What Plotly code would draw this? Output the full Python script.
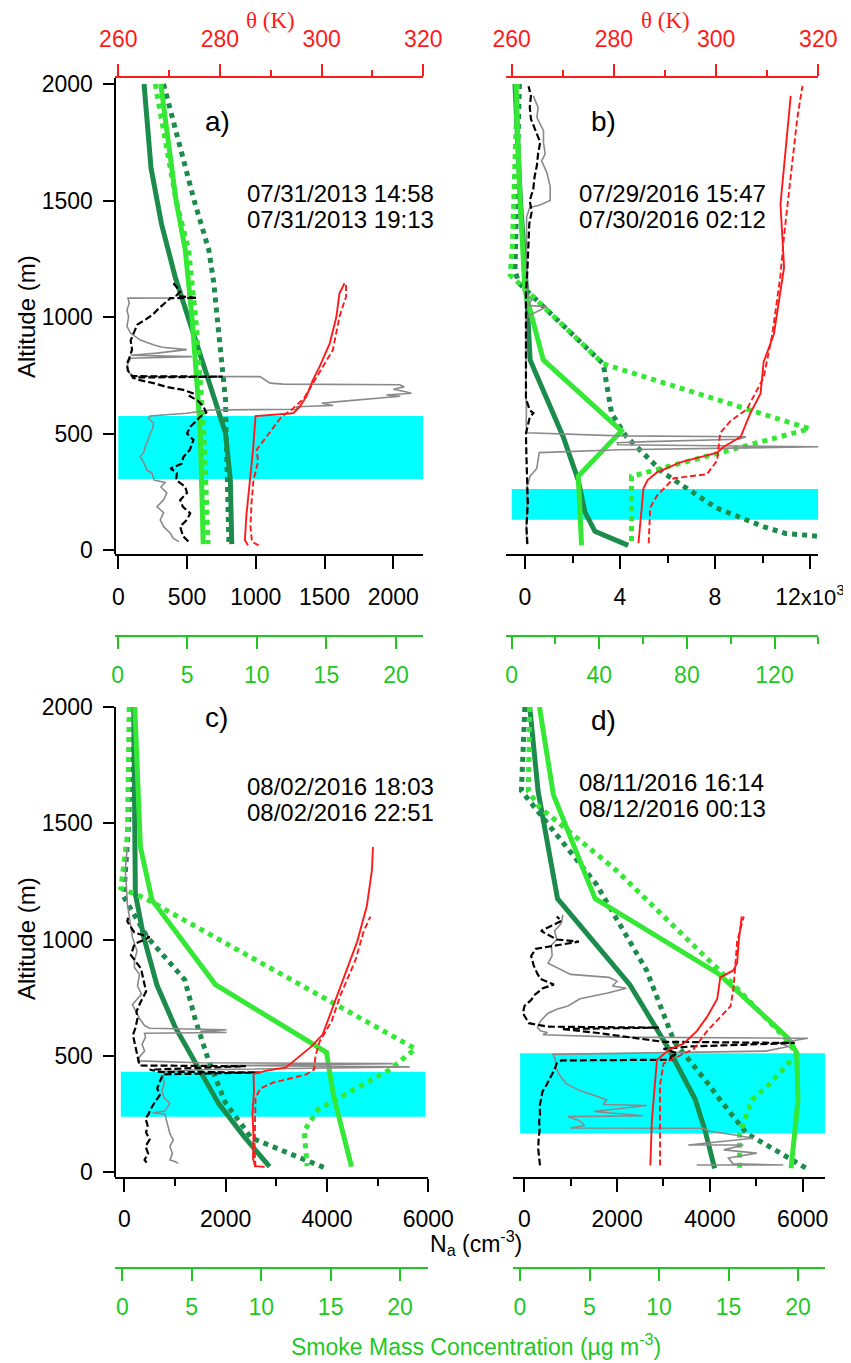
import plotly.graph_objects as go

# window is 851 x 1363; the page body adds an 8 px margin, so the figure is drawn 8 px in
W_WIN, H_WIN = 851, 1363
OFF = 8
W, H = W_WIN - OFF, H_WIN - OFF

# ======================= DATA =======================
# ---- panel a (07/31/2013) ----
A_band_alt = [305, 575]
A_lg_solid_alt = [2000, 1500, 1288, 1000, 716, 500, 25]
A_lg_solid_val = [3.1, 4.2, 4.86, 5.34, 5.7, 5.94, 6.15]
A_lg_dot_alt = [2000, 1500, 1288, 1000, 716, 500, 25]
A_lg_dot_val = [2.7, 4.2, 5.1, 5.6, 5.95, 6.2, 6.5]
A_dg_solid_alt = [2000, 1800, 1640, 1400, 1288, 1173, 1000, 716, 502, 300, 150, 25]
A_dg_solid_val = [1.9, 2.15, 2.4, 3.15, 3.6, 4.13, 5.06, 6.6, 7.75, 8.1, 8.2, 8.2]
A_dg_dot_alt = [2000, 1700, 1500, 1288, 1150, 1000, 800, 644, 500, 25]
A_dg_dot_val = [3.3, 4.6, 5.5, 6.55, 6.9, 7.15, 7.5, 7.75, 7.8, 8.0]
A_th_solid_alt = [20, 43, 150, 300, 429, 575, 587, 615, 659, 730, 787, 887, 1001, 1101, 1145]
A_th_solid_val = [285.5, 284.9, 285.2, 285.9, 286.5, 287.0, 294.4, 295.7, 297.0, 298.3, 299.6, 301.6, 302.9, 303.5, 304.5]
A_th_dash_alt = [20, 35, 100, 200, 300, 380, 429, 486, 540, 572, 600, 650, 716, 787, 858, 1001, 1087, 1145]
A_th_dash_val = [287.6, 286.3, 286.0, 286.2, 286.6, 287.5, 287.2, 289.2, 291.0, 292.1, 294.0, 296.5, 298.3, 300.3, 302.2, 303.5, 304.8, 304.8]
A_gray_alt = [36, 50, 73, 100, 129, 160, 186, 215, 245, 270, 290, 300, 330, 343, 370, 400, 420, 443, 470, 500,
              520, 544, 565, 575, 587, 601, 604, 615, 620, 630, 637, 645, 650, 660, 665, 673, 680, 690, 700, 709,
              712, 716, 744, 746, 760, 787, 800, 823, 830, 836, 845, 860, 870, 880, 901, 930, 960, 1000, 1030, 1060,
              1081, 1082, 1086]
A_gray_na = [440, 400, 377, 330, 305, 330, 281, 330, 353, 310, 340, 260, 245, 208, 190, 160, 185, 196, 215, 232,
             250, 257, 220, 230, 499, 668, 1297, 1297, 1562, 1480, 1600, 1750, 1900, 2050, 1950, 2132, 2080, 2000, 2080, 2047,
             1200, 1104, 1031, 110, 80, 63, 70, 90, 535, 90, 281, 499, 320, 260, 160, 90, 63, 75, 63, 80,
             70, 377, 370]
A_black_alt = [36, 60, 101, 130, 158, 185, 215, 245, 272, 300, 330, 350, 370, 400, 430, 472, 500, 529, 550, 572,
               590, 615, 640, 660, 672, 687, 700, 716, 730, 740, 744, 746, 770, 800, 823, 860, 900, 940, 967, 990,
               1010, 1040, 1060, 1081, 1082, 1090, 1110, 1130, 1145]
A_black_na = [510, 470, 450, 500, 523, 470, 450, 500, 486, 420, 426, 380, 460, 474, 520, 547, 500, 523, 560, 595,
              640, 620, 580, 520, 547, 474, 350, 257, 150, 100, 760, 100, 70, 63, 80, 100, 90, 120, 138, 200,
              250, 300, 341, 380, 570, 420, 450, 420, 401]

# ---- panel b (07/29/2016) ----
B_band_alt = [130, 262]
B_lg_solid_alt = [2000, 1500, 1112, 816, 511, 317, 20]
B_lg_solid_val = [2.0, 3.8, 6.1, 14.4, 50.1, 30.4, 31.9]
B_lg_dot_alt = [2000, 1600, 1300, 1180, 1146, 799, 520, 316, 29]
B_lg_dot_val = [2.6, 1.5, 0.3, -0.7, 3.2, 41.8, 136.0, 54.7, 54.7]
B_dg_solid_alt = [2000, 1500, 1112, 816, 486, 300, 164, 80, 20]
B_dg_solid_val = [1.5, 4.0, 6.8, 8.4, 23.5, 30.4, 33.4, 38.0, 53.2]
B_dg_dot_alt = [2000, 1500, 1200, 1146, 799, 587, 486, 333, 181, 100, 71, 59]
B_dg_dot_val = [3.5, 2.5, 1.5, 3.2, 41.8, 45.6, 52.4, 69.0, 93.4, 115.0, 125.0, 139.8]
B_th_solid_alt = [29, 150, 266, 300, 333, 376, 418, 443, 486, 587, 672, 807, 926, 1213, 1484, 1856, 1949]
B_th_solid_val = [284.8, 285.3, 285.8, 286.6, 288.4, 293.0, 300.2, 301.5, 304.8, 306.7, 308.7, 309.3, 311.3, 313.3, 312.6, 314.2, 314.6]
B_th_dash_alt = [29, 181, 232, 308, 325, 384, 503, 553, 604, 740, 926, 1180, 1349, 1603, 1856, 1992]
B_th_dash_val = [286.8, 287.1, 288.4, 291.7, 298.2, 300.2, 300.8, 302.8, 306.0, 309.3, 311.0, 312.6, 313.3, 314.6, 315.9, 316.9]
B_gray_alt = [29, 100, 200, 266, 290, 317, 333, 350, 418, 430, 443, 452, 460, 465, 475, 486, 490, 503, 550, 590,
              700, 800, 900, 1000, 1044, 1050, 1075, 1090, 1200, 1300, 1430, 1470, 1480, 1500, 1560, 1620, 1670, 1700, 1750, 1800,
              1856, 1900, 1949]
B_gray_na = [70, 60, 90, 70, 140, 212, 353, 495, 600, 4000, 12400, 3900, 3887, 5160, 9000, 9300, 4000, 70, 50, 60,
             40, 30, 40, 50, 918, 100, 300, 100, 70, 60, 70, 200, 600, 1060, 1060, 920, 700, 850, 777, 780,
             500, 550, 350]
B_black_alt = [25, 100, 200, 300, 400, 500, 570, 587, 600, 650, 800, 1000, 1100, 1200, 1300, 1400, 1450, 1500, 1550, 1600,
               1650, 1700, 1750, 1800, 1850, 1900, 1950, 1990]
B_black_na = [100, 60, 120, 80, 60, 40, 200, 353, 200, 40, 30, 20, 40, 100, 140, 180, 280, 200, 350, 400,
              500, 550, 640, 450, 250, 200, 250, 150]

# ---- panel c (08/02/2016) ----
C_band_alt = [238, 431]
C_lg_solid_alt = [2000, 1399, 1170, 806, 515, 330, 23]
C_lg_solid_val = [0.9, 1.3, 2.14, 6.7, 14.7, 15.2, 16.5]
C_lg_dot_alt = [2000, 1452, 1221, 1175, 530, 438, 269, 177, 25]
C_lg_dot_val = [0.5, 0.37, -0.1, 1.7, 21.1, 19.2, 14.1, 13.1, 13.3]
C_dg_solid_alt = [2000, 1500, 1197, 1011, 803, 624, 466, 294, 150, 23]
C_dg_solid_val = [0.82, 0.9, 0.94, 1.54, 2.5, 3.8, 5.26, 6.94, 8.8, 10.6]
C_dg_dot_alt = [2000, 1500, 1184, 1012, 826, 654, 482, 300, 146, 80, 15]
C_dg_dot_val = [0.7, 0.46, 0.1, 1.78, 4.5, 5.26, 6.2, 7.4, 9.3, 12.1, 14.7]
C_th_solid_alt = [22, 25, 60, 150, 250, 350, 422, 435, 450, 491, 538, 591, 684, 837, 991, 1144, 1298, 1398]
C_th_solid_val = [288.8, 286.9, 286.5, 286.6, 286.4, 286.7, 286.6, 289.0, 293.0, 295.3, 297.9, 300.2, 301.8, 304.4, 307.0, 308.9, 309.9, 310.1]
C_th_dash_alt = [22, 100, 200, 320, 360, 385, 395, 420, 440, 500, 560, 650, 760, 914, 1037, 1098]
C_th_dash_val = [287.0, 286.8, 286.9, 287.0, 288.0, 290.5, 292.5, 297.0, 298.5, 298.8, 299.6, 302.0, 303.7, 306.7, 308.3, 309.6]
C_gray_alt = [37, 45, 52, 80, 110, 138, 165, 195, 220, 250, 255, 262, 295, 320, 350, 380, 410, 431, 440, 452,
              458, 466, 470, 478, 495, 520, 550, 580, 597, 600, 605, 612, 618, 630, 660, 700, 720, 765, 800, 850,
              880, 908, 950, 1010, 1067, 1100, 1153, 1200, 1296, 1350, 1398]
C_gray_na = [1065, 1000, 901, 950, 900, 966, 900, 868, 840, 800, 560, 800, 901, 780, 740, 790, 760, 800, 1500, 5636,
             2000, 5300, 1500, 276, 300, 400, 350, 420, 400, 2018, 1500, 2018, 500, 400, 300, 200, 160, 340, 260, 300,
             200, 200, 250, 160, 120, 100, 60, 50, 20, 40, 60]
C_black_alt = [40, 52, 80, 110, 140, 170, 200, 230, 250, 270, 300, 330, 360, 400, 420, 428, 431, 440, 455, 458,
               490, 520, 560, 590, 620, 660, 690, 730, 776, 820, 875, 933, 980, 1010, 1030, 1077, 1100]
C_black_na = [440, 400, 470, 420, 500, 430, 460, 420, 480, 520, 600, 700, 650, 720, 760, 2670, 700, 500, 2400, 300,
              270, 230, 200, 170, 220, 260, 240, 320, 430, 380, 330, 130, 200, 500, 200, 60, 80]

# ---- panel d (08/11/2016) ----
D_band_alt = [166, 511]
D_lg_solid_alt = [2000, 1623, 1176, 852, 575, 513, 310, 16]
D_lg_solid_val = [1.4, 2.4, 5.4, 14.3, 19.3, 19.9, 20.0, 19.5]
D_lg_dot_alt = [2000, 1638, 1569, 1299, 852, 575, 506, 375, 310, 166, 16]
D_lg_dot_val = [0.7, 0.6, 1.4, 6.9, 14.6, 19.1, 19.9, 17.9, 16.7, 15.8, 15.8]
D_dg_solid_alt = [2000, 1638, 1176, 806, 529, 313, 181, 16]
D_dg_solid_val = [0.7, 1.3, 2.7, 7.9, 10.7, 12.6, 13.3, 14.0]
D_dg_dot_alt = [2000, 1640, 1576, 1237, 868, 560, 375, 310, 166, 16]
D_dg_dot_val = [0.35, 0.1, 0.95, 5.5, 9.1, 11.1, 13.6, 14.4, 16.3, 20.6]
D_th_solid_alt = [28, 221, 483, 529, 552, 606, 667, 744, 837, 868, 900, 991, 1099]
D_th_solid_val = [287.1, 287.4, 288.4, 291.0, 293.6, 296.2, 298.2, 300.2, 300.8, 303.4, 304.1, 304.4, 305.0]
D_th_dash_alt = [28, 375, 467, 529, 606, 713, 791, 991, 1099]
D_th_dash_val = [289.0, 289.0, 289.7, 295.6, 298.2, 302.8, 303.4, 304.1, 305.4]
D_gray_alt = [30, 30, 35, 60, 81, 95, 116, 116, 130, 145, 160, 175, 188, 189, 200, 220, 238, 242, 260, 286,
              290, 310, 330, 350, 380, 420, 450, 483, 506, 512, 520, 540, 555, 575, 580, 590, 600, 606, 621, 650,
              683, 700, 714, 745, 770, 790, 800, 820, 837, 850, 870, 898, 930, 975, 1000, 1037, 1070, 1106]
D_gray_na = [3716, 5582, 4500, 4400, 5009, 4300, 4720, 3534, 4200, 4929, 4500, 4000, 3850, 985, 1300, 1200, 940, 2560, 1500, 2638,
             1700, 1776, 1500, 1200, 900, 750, 680, 670, 620, 3000, 5200, 5700, 5500, 6113, 2000, 400, 500, 355, 284, 350,
             511, 700, 940, 1200, 1800, 2200, 1900, 2000, 1823, 1000, 800, 511, 600, 582, 700, 652, 800, 830]
D_black_alt = [28, 67, 100, 144, 180, 221, 250, 282, 313, 344, 375, 406, 440, 467, 480, 483, 490, 510, 530, 540,
               555, 560, 600, 615, 621, 625, 640, 683, 714, 740, 760, 790, 806, 830, 852, 890, 929, 960, 991, 1000,
               1037, 1060, 1080, 1099]
D_black_na = [338, 320, 300, 310, 330, 320, 340, 330, 360, 390, 480, 560, 650, 700, 800, 3200, 3100, 3300, 3000, 3600,
              5830, 3000, 1500, 800, 2900, 500, 100, -30, 4, 150, 213, 400, 638, 350, 284, 200, 148, 250, 1177, 700,
              360, 600, 800, 700]

# tick labels
ALT_TICKS = [0, 500, 1000, 1500, 2000]
THETA_TICKS = [260, 280, 300, 320]
THETA_MINOR = [270, 290, 310]
A_NA_TICKS = [0, 500, 1000, 1500, 2000]
B_NA_TICKS = [0, 4000, 8000, 12000]
B_NA_TEXT = ["0", "4", "8", "12<span style='font-size:22px'>x10<sup>3</sup></span>"]
B_NA_MINOR = [2000, 6000, 10000]
CD_NA_TICKS = [0, 2000, 4000, 6000]
CD_NA_MINOR = [1000, 3000, 5000]
SMOKE_TICKS = [0, 5, 10, 15, 20]
B_SMOKE_TICKS = [0, 40, 80, 120]
B_SMOKE_MINOR = [20, 60, 100, 140]

TIMES = {"a": ["07/31/2013 14:58", "07/31/2013 19:13"],
         "b": ["07/29/2016 15:47", "07/30/2016 02:12"],
         "c": ["08/02/2016 18:03", "08/02/2016 22:51"],
         "d": ["08/11/2016 16:14", "08/12/2016 00:13"]}

# ======================= STYLE =======================
LG = "#35e835"
DG = "#1c8c4c"
AXG = "#1fc81f"
RED = "#ff1a1a"
GRAY = "#8a8a8a"
CYAN = "#00ffff"
SANS = "Liberation Sans, Arial, sans-serif"
SERIF = "Liberation Serif, Times New Roman, serif"
TICK_SIZE = 23


def px(x):
    """window pixel x -> paper fraction"""
    return (x - OFF) / W


def py(y):
    """window pixel y -> paper fraction"""
    return 1 - (y - OFF) / H


fig = go.Figure()


def line(alt, val, xa, ya, color, width, dash="solid"):
    fig.add_trace(go.Scatter(x=val, y=alt, xaxis=xa, yaxis=ya, mode="lines",
                             line=dict(color=color, width=width, dash=dash),
                             hoverinfo="skip", showlegend=False))


def panel(P, xs, xn, xt, ya):
    g = globals()
    # green model profiles (smoke axis)
    line(g[P + "_dg_solid_alt"], g[P + "_dg_solid_val"], xs, ya, DG, 5)
    line(g[P + "_dg_dot_alt"], g[P + "_dg_dot_val"], xs, ya, DG, 5, "dot")
    line(g[P + "_lg_solid_alt"], g[P + "_lg_solid_val"], xs, ya, LG, 5)
    line(g[P + "_lg_dot_alt"], g[P + "_lg_dot_val"], xs, ya, LG, 5, "dot")
    # aerosol number concentration
    line(g[P + "_gray_alt"], g[P + "_gray_na"], xn, ya, GRAY, 1.6)
    line(g[P + "_black_alt"], g[P + "_black_na"], xn, ya, "black", 2.2, "7px,3px")
    # potential temperature
    line(g[P + "_th_solid_alt"], g[P + "_th_solid_val"], xt, ya, RED, 1.9)
    line(g[P + "_th_dash_alt"], g[P + "_th_dash_val"], xt, ya, RED, 1.9, "6px,3px")


panel("A", "x", "x2", "x3", "y")
panel("B", "x4", "x5", "x6", "y")
panel("C", "x7", "x8", "x9", "y2")
panel("D", "x10", "x11", "x12", "y2")

TF = dict(family=SANS, size=TICK_SIZE, color="black")
TFG = dict(family=SANS, size=TICK_SIZE, color=AXG)
TFR = dict(family=SANS, size=TICK_SIZE, color=RED)


def smoke_axis(dom, rng, pos, tv, minor=None):
    d = dict(domain=[px(dom[0]), px(dom[1])], range=rng, anchor="free", position=pos, automargin=False,
             showline=True, linecolor=AXG, linewidth=2, ticks="outside", ticklen=12, tickwidth=2,
             tickcolor=AXG, tickvals=tv, tickfont=TFG, showgrid=False, zeroline=False,
             ticklabelstandoff=6)
    if minor:
        d["minor"] = dict(tickvals=minor, ticklen=7, tickwidth=2, tickcolor=AXG, ticks="outside", showgrid=False)
    return d


def na_axis(over, ya, rng, tv, tt=None, minor=None):
    d = dict(overlaying=over, anchor=ya, side="bottom", range=rng, showline=True, linecolor="black",
             linewidth=2, ticks="outside", ticklen=13, tickwidth=2, tickcolor="black", tickvals=tv,
             tickfont=TF, showgrid=False, zeroline=False, ticklabelstandoff=8, automargin=False)
    if tt:
        d["ticktext"] = tt
    if minor:
        d["minor"] = dict(tickvals=minor, ticklen=7, tickwidth=2, tickcolor="black", ticks="outside", showgrid=False)
    return d


def theta_axis(over, ya, rng, visible=True):
    return dict(overlaying=over, anchor=ya, side="top", range=rng, visible=visible, showline=True,
                linecolor=RED, linewidth=2, ticks="outside", ticklen=12, tickwidth=2, tickcolor=RED,
                tickvals=THETA_TICKS, tickfont=TFR, showgrid=False, zeroline=False, ticklabelstandoff=8,
                automargin=False,
                minor=dict(tickvals=THETA_MINOR, ticklen=6, tickwidth=2, tickcolor=RED, ticks="outside",
                           showgrid=False))


def alt_axis(dom, rng):
    return dict(domain=[py(dom[1]), py(dom[0])], range=rng, anchor="free", position=px(114.5),
                showline=True, linecolor="black", linewidth=2, ticks="outside", ticklen=11, tickwidth=2,
                tickcolor="black", tickvals=ALT_TICKS, tickfont=TF, showgrid=False, zeroline=False,
                ticklabelstandoff=5, automargin=False)


SM_TOP = py(636)
SM_BOT = py(1268.3)

layout = dict(
    width=W, height=H, autosize=False,
    margin=dict(l=0, r=0, t=0, b=0, pad=0, autoexpand=False),
    paper_bgcolor="white", plot_bgcolor="rgba(0,0,0,0)", showlegend=False,
    font=dict(family=SANS, size=22, color="black"),
    yaxis=alt_axis((78.3, 554), [-17.2, 2024.5]),
    yaxis2=alt_axis((706.7, 1176.5), [-19.4, 2001.3]),
    # panel a
    xaxis=smoke_axis((114.5, 423.3), [-0.223, 21.96], SM_TOP, SMOKE_TICKS),
    xaxis2=na_axis("x", "y", [-27.6, 2218.2], A_NA_TICKS),
    xaxis3=theta_axis("x", "y", [259.25, 320.0]),
    # panel b
    xaxis4=smoke_axis((506, 818.3), [-2.60, 140.0], SM_TOP, B_SMOKE_TICKS, B_SMOKE_MINOR),
    xaxis5=na_axis("x4", "y", [-800, 12349], B_NA_TICKS, B_NA_TEXT, B_NA_MINOR),
    xaxis6=theta_axis("x4", "y", [258.88, 320.0]),
    # panel c
    xaxis7=smoke_axis((114.5, 428.3), [-0.562, 22.03], SM_BOT, SMOKE_TICKS),
    xaxis8=na_axis("x7", "y2", [-193.4, 6000], CD_NA_TICKS, None, CD_NA_MINOR),
    xaxis9=theta_axis("x7", "y2", [259.25, 320.99], visible=False),
    # panel d
    xaxis10=smoke_axis((513.3, 825), [-0.482, 21.94], SM_BOT, SMOKE_TICKS),
    xaxis11=na_axis("x10", "y2", [-237, 6481], CD_NA_TICKS, None, CD_NA_MINOR),
    xaxis12=theta_axis("x10", "y2", [260.26, 321.31], visible=False),
)

# boundary-layer smoke bands (cyan)
BANDS = [("x3", "y", A_band_alt, 260.0, 320.0),
         ("x6", "y", B_band_alt, 260.0, 320.0),
         ("x9", "y2", C_band_alt, 260.5, 320.4),
         ("x12", "y2", D_band_alt, 261.6, 321.3)]
shapes = []
for xr, yr, alts, t0, t1 in BANDS:
    shapes.append(dict(type="rect", xref=xr, yref=yr, x0=t0, x1=t1, y0=alts[0], y1=alts[1],
                       fillcolor=CYAN, line=dict(width=0), layer="below"))
layout["shapes"] = shapes

ann = []


def text(x, y, s, size=22, color="black", family=SANS, xanchor="center", angle=0):
    ann.append(dict(x=px(x), y=py(y), xref="paper", yref="paper", text=s, showarrow=False,
                    xanchor=xanchor, yanchor="middle", textangle=angle,
                    font=dict(family=family, size=size, color=color)))


text(270, 21, "θ (K)", 23, RED, SERIF)
text(665, 21, "θ (K)", 23, RED, SERIF)
text(217, 122, "a)", 28)
text(603, 122, "b)", 28)
text(216, 717, "c)", 28)
text(603, 720, "d)", 28)
for key, (x0, y0) in {"a": (245, 193), "b": (577, 193), "c": (245, 786), "d": (577, 782)}.items():
    text(x0, y0, TIMES[key][0], 24, xanchor="left")
    text(x0, y0 + 26.5, TIMES[key][1], 24, xanchor="left")
text(26, 317, "Altitude (m)", 24, angle=-90)
text(26, 939, "Altitude (m)", 24, angle=-90)
text(476, 1243, "N<sub>a</sub> (cm<sup>-3</sup>)", 23)
text(476, 1345, "Smoke Mass Concentration (µg m<sup>-3</sup>)", 23, AXG)
layout["annotations"] = ann

fig.update_layout(**layout)
fig.write_html("out.html")
